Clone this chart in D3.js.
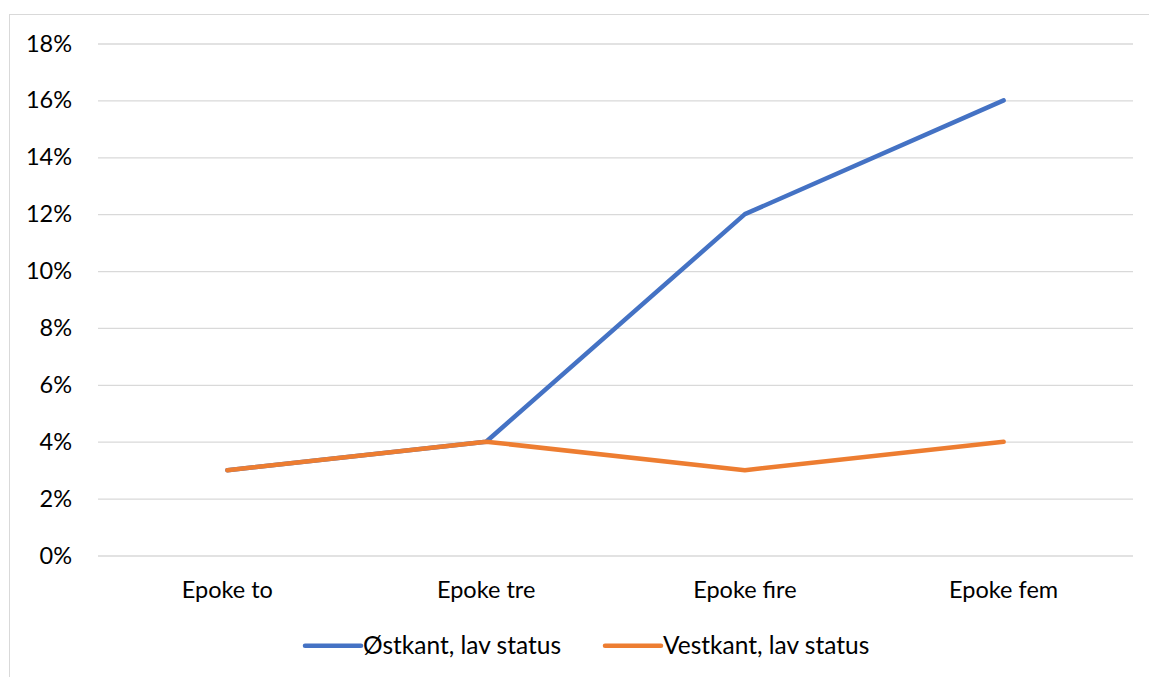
<!DOCTYPE html>
<html><head><meta charset="utf-8">
<script src="https://cdn.jsdelivr.net/npm/d3@7"></script>
<style>body{margin:0;background:#fff}svg{display:block;font-family:Lato, "Open Sans", sans-serif}</style>
</head><body>
<svg id="c" width="1149" height="677"></svg>
<script>
const categories = ["Epoke to","Epoke tre","Epoke fire","Epoke fem"];
const ostkant = [0.03,0.04,0.12,0.16];
const vestkant = [0.03,0.04,0.03,0.04];
const seriesNames = ["Østkant, lav status","Vestkant, lav status"];
const colors = ["#4472C4","#ED7D31"];
const yTicks = [0,0.02,0.04,0.06,0.08,0.10,0.12,0.14,0.16,0.18];

const FS = "23.5px";
const svg = d3.select("#c");
svg.append("rect").attr("x",9.5).attr("y",14.5).attr("width",1200).attr("height",700)
  .attr("fill","#fff").attr("stroke","#d9d9d9").attr("stroke-width",1);

const L=98, R=1133, T=43.5, B=555.5;
const x = d3.scaleBand().domain(categories).range([L,R]);
const y = d3.scaleLinear().domain([0,0.18]).range([B,T]);

const yAxis = d3.axisLeft(y).tickValues(yTicks).tickFormat(d3.format(".0%")).tickSize(-(R-L)).tickPadding(26);
const gy = svg.append("g").attr("transform",`translate(${L},0)`).call(yAxis);
gy.select(".domain").remove();
gy.selectAll(".tick line").attr("stroke","#d9d9d9").attr("stroke-width",1.3);
gy.selectAll(".tick text").attr("fill","#000").style("font-size",FS).style("font-family","Lato, sans-serif");

const xAxis = d3.axisBottom(x).tickSize(0).tickPadding(26);
const gx = svg.append("g").attr("transform",`translate(0,${B})`).call(xAxis);
gx.select(".domain").remove();
gx.selectAll(".tick text").attr("fill","#000").style("font-size",FS).style("font-family","Lato, sans-serif");

const line = d3.line().x((d,i)=>x(categories[i])+x.bandwidth()/2).y(d=>y(d));
[ostkant, vestkant].forEach((s,k)=>{
  svg.append("path").datum(s).attr("d",line).attr("fill","none")
    .attr("stroke",colors[k]).attr("stroke-width",4.5).attr("stroke-linecap","round").attr("stroke-linejoin","round");
});

const legendX = [305, 605];
seriesNames.forEach((n,k)=>{
  const g = svg.append("g").attr("transform",`translate(${legendX[k]},645.7)`);
  g.append("line").attr("x1",0).attr("x2",56).attr("stroke",colors[k]).attr("stroke-width",4.5).attr("stroke-linecap","round");
  g.append("text").attr("x",58).attr("y",8.5).attr("fill","#000").style("font-size","24.5px").text(n);
});
</script>
</body></html>
